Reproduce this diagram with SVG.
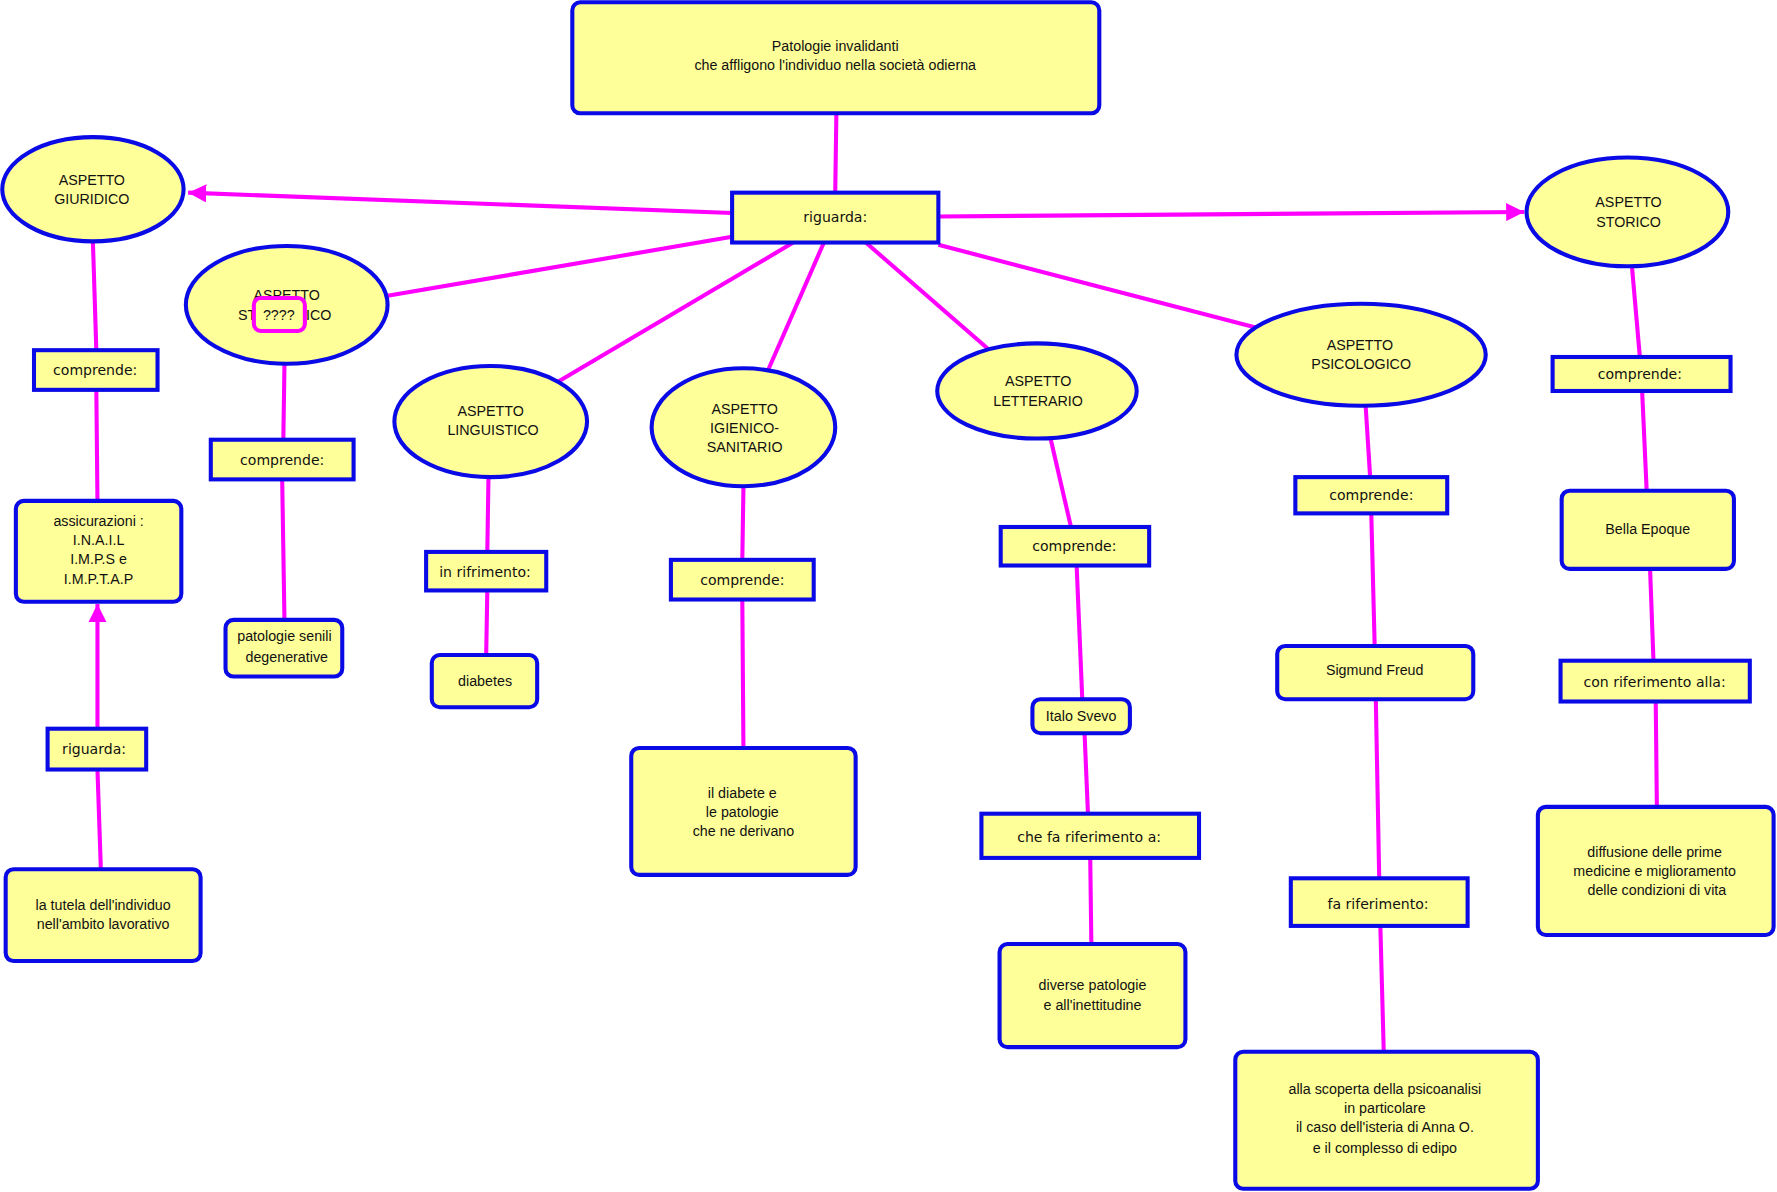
<svg xmlns="http://www.w3.org/2000/svg" width="1777" height="1192" viewBox="0 0 1777 1192">
<style>
.box{fill:#FFFF99;stroke:#0A0AE6;stroke-width:3.6}
.ell{fill:#FFFF99;stroke:#0A0AE6;stroke-width:3.6}
.lnk{stroke:#FF00FF;stroke-width:3.6;fill:none}
.t{font-family:"Liberation Sans",Arial,sans-serif;font-size:12.6px;fill:#111;text-anchor:middle}
.l{font-family:"DejaVu Sans",Verdana,sans-serif;font-size:12.4px;fill:#111;text-anchor:middle}
</style>
<defs>
<marker id="ah" markerUnits="userSpaceOnUse" markerWidth="18" markerHeight="16" refX="16" refY="8" orient="auto">
<path d="M0,0 L16,8 L0,16 Z" fill="#FF00FF"/>
</marker>
</defs>
<rect width="1777" height="1192" fill="#FFFFFF"/>
<g transform="scale(1.13329)">
<g id="connectors">
<line class="lnk" x1="738" y1="100" x2="737" y2="170"/>
<line class="lnk" x1="646" y1="188" x2="166" y2="170" marker-end="url(#ah)"/>
<line class="lnk" x1="828" y1="191" x2="1345" y2="187" marker-end="url(#ah)"/>
<line class="lnk" x1="646" y1="209" x2="342" y2="261"/>
<line class="lnk" x1="700" y1="214" x2="492" y2="337"/>
<line class="lnk" x1="727" y1="214" x2="678" y2="326"/>
<line class="lnk" x1="764" y1="214" x2="872" y2="308"/>
<line class="lnk" x1="828" y1="216" x2="1108" y2="289"/>
<line class="lnk" x1="82" y1="214" x2="85" y2="309"/>
<line class="lnk" x1="85" y1="344" x2="86" y2="442"/>
<line class="lnk" x1="86" y1="643" x2="86" y2="533" marker-end="url(#ah)"/>
<line class="lnk" x1="89" y1="767" x2="86" y2="679"/>
<line class="lnk" x1="251" y1="322" x2="250" y2="388"/>
<line class="lnk" x1="249" y1="423" x2="251" y2="547"/>
<line class="lnk" x1="431" y1="422" x2="430" y2="487"/>
<line class="lnk" x1="430" y1="521" x2="429" y2="578"/>
<line class="lnk" x1="656" y1="430" x2="655" y2="494"/>
<line class="lnk" x1="655" y1="529" x2="656" y2="660"/>
<line class="lnk" x1="927" y1="387" x2="945" y2="465"/>
<line class="lnk" x1="950" y1="499" x2="955" y2="617"/>
<line class="lnk" x1="957" y1="647" x2="960" y2="718"/>
<line class="lnk" x1="962" y1="757" x2="963" y2="833"/>
<line class="lnk" x1="1205" y1="358" x2="1209" y2="421"/>
<line class="lnk" x1="1210" y1="453" x2="1213" y2="570"/>
<line class="lnk" x1="1214" y1="617" x2="1217" y2="775"/>
<line class="lnk" x1="1218" y1="817" x2="1221" y2="928"/>
<line class="lnk" x1="1440" y1="235" x2="1447" y2="315"/>
<line class="lnk" x1="1449" y1="345" x2="1453" y2="433"/>
<line class="lnk" x1="1456" y1="502" x2="1459" y2="583"/>
<line class="lnk" x1="1461" y1="619" x2="1462" y2="712"/>
</g>
<g id="n-top"><rect class="box" x="505" y="2" width="465" height="98" rx="7"/><text class="t" x="737" y="45">Patologie invalidanti</text><text class="t" x="737" y="62">che affligono l'individuo nella società odierna</text></g>
<g id="n-riguarda"><rect class="box" x="646" y="170" width="182" height="44"/><text class="l" x="737" y="196">riguarda:</text></g>
<g id="n-giuridico"><ellipse class="ell" cx="82" cy="167" rx="80" ry="46"/><text class="t" x="81" y="163">ASPETTO</text><text class="t" x="81" y="180">GIURIDICO</text></g>
<g id="n-comp1"><rect class="box" x="30" y="309" width="109" height="35"/><text class="l" x="84" y="331">comprende:</text></g>
<g id="n-assic"><rect class="box" x="14" y="442" width="146" height="89" rx="7"/><text class="t" x="87" y="464">assicurazioni :</text><text class="t" x="87" y="481">I.N.A.I.L</text><text class="t" x="87" y="498">I.M.P.S e</text><text class="t" x="87" y="515">I.M.P.T.A.P</text></g>
<g id="n-rig2"><rect class="box" x="42" y="643" width="87" height="36"/><text class="l" x="83" y="665">riguarda:</text></g>
<g id="n-tutela"><rect class="box" x="5" y="767" width="172" height="81" rx="7"/><text class="t" x="91" y="803">la tutela dell'individuo</text><text class="t" x="91" y="820">nell'ambito lavorativo</text></g>
<g id="n-sxxx"><ellipse class="ell" cx="253" cy="269" rx="89" ry="52"/><text class="t" x="253" y="265">ASPETTO</text><text class="t" x="226" y="282" style="text-anchor:end">ST</text><text class="t" x="270" y="282" style="text-anchor:start">ICO</text><rect x="224" y="263" width="45" height="29" rx="6" fill="#FFFF99" stroke="#FF00FF" stroke-width="3.6"/><text class="t" x="246" y="282">????</text></g>
<g id="n-comp2"><rect class="box" x="186" y="388" width="126" height="35"/><text class="l" x="249" y="410">comprende:</text></g>
<g id="n-senili"><rect class="box" x="199" y="547" width="103" height="50" rx="7"/><text class="t" x="251" y="566">patologie senili</text><text class="t" x="253" y="584">degenerative</text></g>
<g id="n-ling"><ellipse class="ell" cx="433" cy="372" rx="85" ry="49"/><text class="t" x="433" y="367">ASPETTO</text><text class="t" x="435" y="384">LINGUISTICO</text></g>
<g id="n-rifr"><rect class="box" x="376" y="487" width="106" height="34"/><text class="l" x="428" y="509">in rifrimento:</text></g>
<g id="n-diabetes"><rect class="box" x="381" y="578" width="93" height="46" rx="7"/><text class="t" x="428" y="605">diabetes</text></g>
<g id="n-igien"><ellipse class="ell" cx="656" cy="377" rx="81" ry="52"/><text class="t" x="657" y="365">ASPETTO</text><text class="t" x="657" y="382">IGIENICO-</text><text class="t" x="657" y="399">SANITARIO</text></g>
<g id="n-comp3"><rect class="box" x="592" y="494" width="126" height="35"/><text class="l" x="655" y="516">comprende:</text></g>
<g id="n-diabete"><rect class="box" x="557" y="660" width="198" height="112" rx="7"/><text class="t" x="655" y="704">il diabete e</text><text class="t" x="655" y="721">le patologie</text><text class="t" x="656" y="738">che ne derivano</text></g>
<g id="n-lett"><ellipse class="ell" cx="915" cy="345" rx="88" ry="42"/><text class="t" x="916" y="341">ASPETTO</text><text class="t" x="916" y="358">LETTERARIO</text></g>
<g id="n-comp4"><rect class="box" x="883" y="465" width="131" height="34"/><text class="l" x="948" y="486">comprende:</text></g>
<g id="n-svevo"><rect class="box" x="911" y="617" width="86" height="30" rx="7"/><text class="t" x="954" y="636">Italo Svevo</text></g>
<g id="n-chefa"><rect class="box" x="866" y="718" width="192" height="39"/><text class="l" x="961" y="743">che fa riferimento a:</text></g>
<g id="n-diverse"><rect class="box" x="882" y="833" width="164" height="91" rx="7"/><text class="t" x="964" y="874">diverse patologie</text><text class="t" x="964" y="891">e all'inettitudine</text></g>
<g id="n-psico"><ellipse class="ell" cx="1201" cy="313" rx="110" ry="45"/><text class="t" x="1200" y="309">ASPETTO</text><text class="t" x="1201" y="326">PSICOLOGICO</text></g>
<g id="n-comp5"><rect class="box" x="1143" y="421" width="134" height="32"/><text class="l" x="1210" y="441">comprende:</text></g>
<g id="n-freud"><rect class="box" x="1127" y="570" width="173" height="47" rx="7"/><text class="t" x="1213" y="596">Sigmund Freud</text></g>
<g id="n-farif"><rect class="box" x="1139" y="775" width="156" height="42"/><text class="l" x="1216" y="802">fa riferimento:</text></g>
<g id="n-scoperta"><rect class="box" x="1090" y="928" width="267" height="121" rx="7"/><text class="t" x="1222" y="965">alla scoperta della psicoanalisi</text><text class="t" x="1222" y="982">in particolare</text><text class="t" x="1222" y="999">il caso dell'isteria di Anna O.</text><text class="t" x="1222" y="1017">e il complesso di edipo</text></g>
<g id="n-storico"><ellipse class="ell" cx="1436" cy="187" rx="89" ry="48"/><text class="t" x="1437" y="183">ASPETTO</text><text class="t" x="1437" y="200">STORICO</text></g>
<g id="n-comp6"><rect class="box" x="1370" y="315" width="157" height="30"/><text class="l" x="1447" y="334">comprende:</text></g>
<g id="n-bella"><rect class="box" x="1378" y="433" width="152" height="69" rx="7"/><text class="t" x="1454" y="471">Bella Epoque</text></g>
<g id="n-conrif"><rect class="box" x="1377" y="583" width="167" height="36"/><text class="l" x="1460" y="606">con riferimento alla:</text></g>
<g id="n-diffus"><rect class="box" x="1357" y="712" width="208" height="113" rx="7"/><text class="t" x="1460" y="756">diffusione delle prime</text><text class="t" x="1460" y="773">medicine  e miglioramento</text><text class="t" x="1462" y="790">delle condizioni di vita</text></g>
</g>
</svg>
